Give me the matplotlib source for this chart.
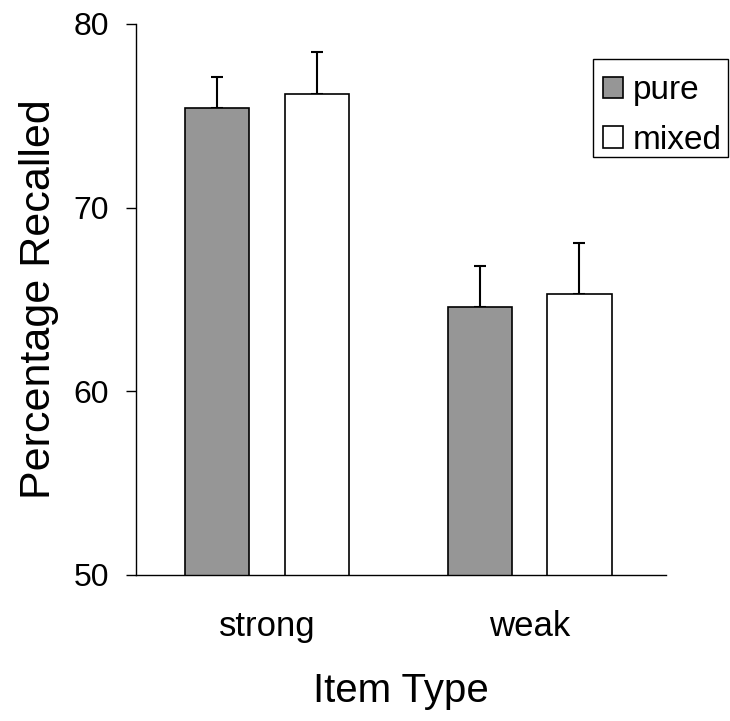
#!/usr/bin/env python3
"""
Percentage recalled by item type, pure vs mixed lists
"""

import matplotlib
matplotlib.use("Agg")
import matplotlib.pyplot as plt
import matplotlib.patches as mpatches
import numpy as np

# Data
item_types = ['strong', 'weak']
conditions = ['pure', 'mixed']
pure_means = [75.4, 64.6]
pure_err = [1.7, 2.2]
mixed_means = [76.2, 65.3]
mixed_err = [2.3, 2.8]

plt.rcParams['font.family'] = ['Liberation Sans', 'DejaVu Sans']

fig = plt.figure(figsize=(7.30, 7.21), dpi=100, facecolor='white')
ax = fig.add_axes([136 / 730, 1 - 575 / 721, 530 / 730, 551 / 721])

x = np.arange(1, len(item_types) + 1)
width = 0.245
offset = 0.19

# Bars with upward-only error bars
ax.bar(x - offset, pure_means, width, color='#969696',
       edgecolor='black', linewidth=1.2, label=conditions[0], zorder=2)
ax.bar(x + offset, mixed_means, width, color='white',
       edgecolor='black', linewidth=1.2, label=conditions[1], zorder=2)
ax.errorbar(x - offset, pure_means, yerr=[np.zeros(2), pure_err], fmt='none',
            ecolor='black', elinewidth=1.5, capsize=4.2, capthick=1.5, zorder=1)
ax.errorbar(x + offset, mixed_means, yerr=[np.zeros(2), mixed_err], fmt='none',
            ecolor='black', elinewidth=1.5, capsize=4.2, capthick=1.5, zorder=1)

# Axes styling
ax.set_ylim(50, 80)
ax.set_xlim(0.5, 2.52)
ax.set_yticks([50, 60, 70, 80])
ax.set_xticks(x)
ax.set_xticklabels(item_types)
ax.tick_params(axis='y', direction='out', length=7.2, width=1, pad=12,
               labelsize=23)
ax.tick_params(axis='x', length=0, pad=25, labelsize=25)
ax.spines['top'].set_visible(False)
ax.spines['right'].set_visible(False)
ax.spines['left'].set_linewidth(1)
ax.spines['bottom'].set_linewidth(1)

ax.set_xlabel('Item Type', fontsize=29, labelpad=21)
ax.set_ylabel('Percentage Recalled', fontsize=31, labelpad=11)

# Legend entries without frame, box drawn separately
leg = ax.legend(loc='upper left', bbox_to_anchor=(593 / 730, 1 - 65 / 721),
                bbox_transform=fig.transFigure, borderaxespad=0,
                fontsize=24, handlelength=0.6, handleheight=0.6,
                handletextpad=0.3, labelspacing=0.56, borderpad=0.3,
                frameon=False)
frame = mpatches.Rectangle((593 / 730, 1 - 157 / 721), 135 / 730, 98 / 721,
                           transform=fig.transFigure, fill=False,
                           edgecolor='black', linewidth=1)
fig.patches.append(frame)

plt.savefig('out.png', dpi=100, facecolor='white')
plt.close()
